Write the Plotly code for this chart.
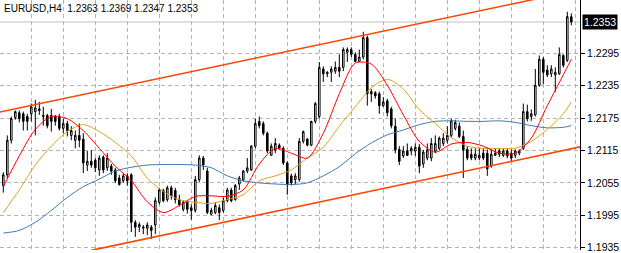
import plotly.graph_objects as go

# ---------------- data ----------------
symbol_title = "EURUSD,H4  1.2363 1.2369 1.2347 1.2353"

bars = list(range(143))

opens = [
    1.2050, 1.2070, 1.2134, 1.2176, 1.2185, 1.2183, 1.2178, 1.2183, 1.2187, 1.2192,
    1.2178, 1.2180, 1.2180, 1.2178, 1.2178, 1.2156, 1.2165, 1.2143, 1.2134, 1.2143,
    1.2136, 1.2088, 1.2095, 1.2097, 1.2079, 1.2103, 1.2083, 1.2086, 1.2079, 1.2064,
    1.2059, 1.2068, 1.2070, 1.1982, 1.1973, 1.1971, 1.1971, 1.1973, 1.1977, 1.2019,
    1.2041, 1.2024, 1.2046, 1.2041, 1.2024, 1.2006, 1.2019, 1.2009, 1.2004, 1.2061,
    1.2101, 1.2077, 1.1997, 1.2000, 1.2009, 1.2004, 1.2022, 1.2042, 1.2024, 1.2053,
    1.2061, 1.2077, 1.2079, 1.2123, 1.2169, 1.2165, 1.2147, 1.2106, 1.2116, 1.2125,
    1.2119, 1.2092, 1.2068, 1.2061, 1.2061, 1.2132, 1.2136, 1.2125, 1.2169, 1.2178,
    1.2266, 1.2257, 1.2260, 1.2262, 1.2269, 1.2269, 1.2297, 1.2302, 1.2293, 1.2280,
    1.2288, 1.2324, 1.2224, 1.2222, 1.2220, 1.2198, 1.2207, 1.2192, 1.2160, 1.2117,
    1.2105, 1.2114, 1.2114, 1.2114, 1.2121, 1.2090, 1.2101, 1.2101, 1.2114, 1.2119,
    1.2128, 1.2134, 1.2143, 1.2156, 1.2160, 1.2141, 1.2117, 1.2108, 1.2101, 1.2101,
    1.2110, 1.2110, 1.2086, 1.2106, 1.2114, 1.2106, 1.2114, 1.2110, 1.2106, 1.2110,
    1.2119, 1.2187, 1.2178, 1.2181, 1.2236, 1.2284, 1.2264, 1.2257, 1.2255, 1.2257,
    1.2291, 1.2282, 1.2363,
]
highs = [
    1.2075, 1.2143, 1.2178, 1.2189, 1.2189, 1.2187, 1.2183, 1.2202, 1.2209, 1.2205,
    1.2196, 1.2183, 1.2192, 1.2181, 1.2183, 1.2174, 1.2170, 1.2160, 1.2152, 1.2165,
    1.2147, 1.2114, 1.2116, 1.2101, 1.2106, 1.2106, 1.2110, 1.2090, 1.2083, 1.2070,
    1.2073, 1.2073, 1.2073, 1.1986, 1.1982, 1.1977, 1.1982, 1.1977, 1.2028, 1.2046,
    1.2044, 1.2050, 1.2050, 1.2046, 1.2033, 1.2022, 1.2022, 1.2015, 1.2068, 1.2106,
    1.2105, 1.2083, 1.2009, 1.2019, 1.2015, 1.2028, 1.2046, 1.2046, 1.2053, 1.2068,
    1.2079, 1.2101, 1.2125, 1.2174, 1.2178, 1.2169, 1.2150, 1.2128, 1.2138, 1.2128,
    1.2123, 1.2095, 1.2072, 1.2073, 1.2138, 1.2152, 1.2138, 1.2170, 1.2205, 1.2279,
    1.2271, 1.2262, 1.2271, 1.2280, 1.2293, 1.2306, 1.2306, 1.2306, 1.2297, 1.2302,
    1.2335, 1.2328, 1.2229, 1.2225, 1.2224, 1.2214, 1.2211, 1.2196, 1.2174, 1.2123,
    1.2123, 1.2128, 1.2123, 1.2128, 1.2127, 1.2116, 1.2128, 1.2138, 1.2143, 1.2141,
    1.2147, 1.2160, 1.2174, 1.2172, 1.2167, 1.2152, 1.2123, 1.2119, 1.2119, 1.2119,
    1.2119, 1.2117, 1.2117, 1.2119, 1.2119, 1.2119, 1.2119, 1.2117, 1.2117, 1.2117,
    1.2202, 1.2200, 1.2191, 1.2266, 1.2291, 1.2288, 1.2273, 1.2273, 1.2269, 1.2306,
    1.2293, 1.2372, 1.2369,
]
lows = [
    1.2037, 1.2064, 1.2128, 1.2172, 1.2167, 1.2152, 1.2152, 1.2169, 1.2143, 1.2181,
    1.2161, 1.2156, 1.2150, 1.2161, 1.2152, 1.2147, 1.2141, 1.2134, 1.2119, 1.2121,
    1.2073, 1.2077, 1.2083, 1.2075, 1.2068, 1.2073, 1.2077, 1.2070, 1.2055, 1.2050,
    1.2055, 1.2050, 1.1964, 1.1955, 1.1964, 1.1960, 1.1958, 1.1951, 1.1960, 1.2015,
    1.2019, 1.2020, 1.2024, 1.2017, 1.2011, 1.2002, 1.1998, 1.1987, 1.2000, 1.2057,
    1.2079, 1.1997, 1.1995, 1.1997, 1.1986, 1.2000, 1.2019, 1.2019, 1.2022, 1.2042,
    1.2057, 1.2073, 1.2077, 1.2119, 1.2156, 1.2143, 1.2110, 1.2105, 1.2110, 1.2116,
    1.2088, 1.2033, 1.2050, 1.2052, 1.2057, 1.2128, 1.2123, 1.2123, 1.2165, 1.2174,
    1.2242, 1.2251, 1.2242, 1.2257, 1.2251, 1.2262, 1.2279, 1.2288, 1.2279, 1.2279,
    1.2284, 1.2198, 1.2205, 1.2211, 1.2183, 1.2196, 1.2178, 1.2156, 1.2110, 1.2088,
    1.2101, 1.2105, 1.2106, 1.2105, 1.2073, 1.2083, 1.2097, 1.2095, 1.2110, 1.2116,
    1.2123, 1.2128, 1.2139, 1.2152, 1.2138, 1.2064, 1.2097, 1.2097, 1.2097, 1.2097,
    1.2097, 1.2068, 1.2083, 1.2105, 1.2103, 1.2103, 1.2101, 1.2095, 1.2101, 1.2106,
    1.2116, 1.2169, 1.2170, 1.2178, 1.2233, 1.2238, 1.2251, 1.2251, 1.2224, 1.2255,
    1.2269, 1.2279, 1.2347,
]
closes = [
    1.2070, 1.2134, 1.2174, 1.2187, 1.2174, 1.2169, 1.2169, 1.2196, 1.2194, 1.2189,
    1.2180, 1.2161, 1.2169, 1.2169, 1.2156, 1.2165, 1.2152, 1.2152, 1.2143, 1.2134,
    1.2092, 1.2095, 1.2088, 1.2083, 1.2101, 1.2079, 1.2101, 1.2077, 1.2059, 1.2052,
    1.2068, 1.2059, 1.1982, 1.1973, 1.1978, 1.1973, 1.1977, 1.1967, 1.2022, 1.2042,
    1.2022, 1.2046, 1.2031, 1.2024, 1.2015, 1.2019, 1.2006, 1.2004, 1.2061, 1.2101,
    1.2088, 1.2000, 1.2004, 1.2013, 1.2000, 1.2022, 1.2042, 1.2022, 1.2050, 1.2064,
    1.2077, 1.2083, 1.2123, 1.2165, 1.2161, 1.2147, 1.2114, 1.2123, 1.2128, 1.2119,
    1.2092, 1.2052, 1.2055, 1.2068, 1.2132, 1.2150, 1.2125, 1.2169, 1.2202, 1.2269,
    1.2257, 1.2260, 1.2266, 1.2269, 1.2262, 1.2302, 1.2302, 1.2293, 1.2280, 1.2288,
    1.2324, 1.2220, 1.2220, 1.2216, 1.2198, 1.2205, 1.2185, 1.2161, 1.2116, 1.2095,
    1.2114, 1.2106, 1.2119, 1.2121, 1.2086, 1.2112, 1.2116, 1.2128, 1.2128, 1.2138,
    1.2138, 1.2143, 1.2170, 1.2167, 1.2141, 1.2116, 1.2101, 1.2101, 1.2108, 1.2106,
    1.2101, 1.2081, 1.2108, 1.2110, 1.2108, 1.2114, 1.2105, 1.2101, 1.2114, 1.2114,
    1.2187, 1.2174, 1.2183, 1.2236, 1.2284, 1.2260, 1.2255, 1.2266, 1.2260, 1.2293,
    1.2273, 1.2363, 1.2353,
]

# moving averages, read at every 4th bar
ma_bars = [0, 4, 8, 12, 16, 20, 24, 28, 32, 36, 40, 44, 48, 52, 56, 60, 64, 68, 72,
           76, 80, 84, 88, 92, 96, 100, 104, 108, 112, 116, 120, 124, 128, 132, 136,
           140, 142]
ma_fast = [1.2048, 1.2105, 1.2154, 1.2178, 1.2174, 1.2152, 1.2119, 1.2086, 1.2059,
           1.2020, 1.2000, 1.2013, 1.2030, 1.2031, 1.2030, 1.2042, 1.2090, 1.2119,
           1.2110, 1.2101, 1.2147, 1.2220, 1.2277, 1.2275, 1.2236, 1.2181, 1.2132,
           1.2112, 1.2127, 1.2130, 1.2123, 1.2110, 1.2110, 1.2138, 1.2198, 1.2255,
           1.2284]
ma_mid = [1.2000, 1.2042, 1.2088, 1.2123, 1.2150, 1.2163, 1.2150, 1.2130, 1.2105,
          1.2064, 1.2039, 1.2024, 1.2019, 1.2017, 1.2024, 1.2033, 1.2059, 1.2068,
          1.2079, 1.2101, 1.2121, 1.2160, 1.2196, 1.2231, 1.2247, 1.2229, 1.2191,
          1.2165, 1.2139, 1.2123, 1.2119, 1.2119, 1.2119, 1.2132, 1.2154, 1.2183,
          1.2205]
ma_slow = [1.1962, 1.1967, 1.1982, 1.2004, 1.2028, 1.2048, 1.2062, 1.2077, 1.2084,
           1.2088, 1.2089, 1.2089, 1.2088, 1.2083, 1.2068, 1.2059, 1.2055, 1.2053,
           1.2052, 1.2055, 1.2068, 1.2085, 1.2109, 1.2129, 1.2144, 1.2153, 1.2163,
           1.2169, 1.2170, 1.2169, 1.2169, 1.2170, 1.2167, 1.2161, 1.2157, 1.2158,
           1.2161]

# trend channel anchors (bar, price)
upper_line_bars = [-1, 134]
upper_line_prices = [1.2186, 1.2397]
lower_line_bars = [22, 145]
lower_line_prices = [1.1930, 1.2123]

price_ticks = [1.1935, 1.1995, 1.2055, 1.2115, 1.2175, 1.2235, 1.2295]
price_ticklabels = ["1.1935", "1.1995", "1.2055", "1.2115", "1.2175", "1.2235", "1.2295"]

# ---------------- figure ----------------
FONT = "Liberation Sans, Arial, sans-serif"
GRID = "#b4b4b4"

fig = go.Figure()

fig.add_trace(go.Candlestick(
    x=bars, open=opens, high=highs, low=lows, close=closes,
    increasing=dict(line=dict(color="black", width=1), fillcolor="white"),
    decreasing=dict(line=dict(color="black", width=1), fillcolor="black"),
    whiskerwidth=0, hoverinfo="skip", showlegend=False,
))

for vals, col in [(ma_slow, "#3c7ab4"), (ma_mid, "#e0a020"), (ma_fast, "#ff0000")]:
    fig.add_trace(go.Scatter(
        x=ma_bars, y=vals, mode="lines",
        line=dict(color=col, width=1, shape="spline", smoothing=0.8),
        hoverinfo="skip", showlegend=False,
    ))

for xs, ys in [(upper_line_bars, upper_line_prices), (lower_line_bars, lower_line_prices)]:
    fig.add_trace(go.Scatter(
        x=xs, y=ys, mode="lines",
        line=dict(color="#ff4500", width=1.6),
        hoverinfo="skip", showlegend=False,
    ))

# bid line
fig.add_shape(type="line", xref="paper", x0=0, x1=1, yref="y",
              y0=closes[-1], y1=closes[-1],
              line=dict(color="#c0c0c0", width=1), layer="below")

# bid label on the price scale
fig.add_annotation(xref="paper", x=1, xanchor="left", xshift=2,
                   yref="y", y=closes[-1], yanchor="middle",
                   text=f"{closes[-1]:.4f}", showarrow=False,
                   bgcolor="black", borderpad=1,
                   font=dict(family=FONT, size=10.5, color="white"))

# symbol title
fig.add_annotation(xref="paper", x=0, xanchor="left", xshift=2,
                   yref="paper", y=1, yanchor="top", yshift=-1,
                   text=symbol_title, showarrow=False,
                   font=dict(family=FONT, size=10, color="black"))

grid_x = [7.1 + 8 * k for k in range(18)]

fig.update_layout(
    width=621, height=253,
    margin=dict(l=0, r=41, t=0, b=0),
    paper_bgcolor="white", plot_bgcolor="white",
    boxgap=0.45,
    xaxis=dict(range=[-0.825, 144.175], tickvals=grid_x, showticklabels=False,
               showgrid=True, gridcolor=GRID, griddash="4px,3px", gridwidth=1,
               zeroline=False, showline=False, ticks="",
               rangeslider=dict(visible=False), fixedrange=True),
    yaxis=dict(side="right", range=[1.19307, 1.23938],
               tickvals=price_ticks, ticktext=price_ticklabels,
               ticklabeloverflow="allow",
               showgrid=True, gridcolor=GRID, griddash="4px,3px", gridwidth=1,
               zeroline=False, showline=True, linecolor="black", linewidth=1,
               ticks="outside", ticklen=4, tickcolor="black",
               tickfont=dict(family=FONT, size=10.5, color="black"),
               fixedrange=True),
    font=dict(family=FONT),
)

fig.write_html("out.html")
